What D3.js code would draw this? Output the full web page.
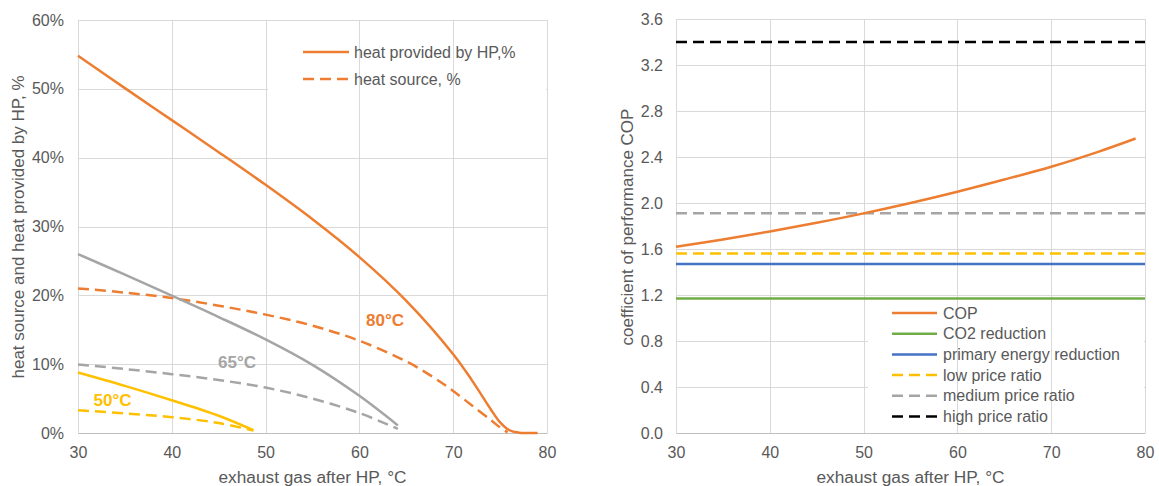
<!DOCTYPE html>
<html><head><meta charset="utf-8">
<script src="https://cdn.jsdelivr.net/npm/d3@7"></script>
<style>
body{margin:0;background:#fff;}
svg text{font-family:"Liberation Sans",Arial,sans-serif;}
</style></head>
<body><svg id="c" width="1159" height="486"></svg>
<script>
// ---------- DATA (left chart) ----------
const x80hp = [30,35,40,45,50,55,60,65,70,72,74,75,76,77,78,79];
const heatHP80 = [54.8,50.1,45.45,40.8,36.05,31.05,25.55,19.2,11.45,7.65,3.45,1.55,0.4,0.05,0,0];
const x80src = [30,35,40,45,50,55,60,65,68,70,72,74,75,75.8];
const heatSrc80 = [21.0,20.4,19.6,18.5,17.2,15.6,13.4,10.4,8.0,6.1,4.0,1.9,0.8,0.1];
const x65 = [30,35,40,45,50,55,60,64.1];
const heatHP65 = [26.0,23.0,19.95,16.85,13.6,9.9,5.4,1.1];
const heatSrc65 = [9.95,9.3,8.55,7.7,6.6,5.0,2.9,0.6];
const x50 = [30,35,40,45,48.7];
const heatHP50 = [8.8,6.85,4.75,2.5,0.4];
const heatSrc50 = [3.3,2.85,2.3,1.45,0.35];
const leftXTicks = [30,40,50,60,70,80];
const leftYTicks = [0,10,20,30,40,50,60];
const tempLabels = ["80°C","65°C","50°C"];
const leftLegend = ["heat provided by HP,%","heat source, %"];
// ---------- DATA (right chart) ----------
const xCop = [30,35,40,45,50,55,60,65,70,75,79];
const cop = [1.62,1.683,1.752,1.828,1.91,2.0,2.098,2.204,2.315,2.445,2.561];
const xFlat = [30,80];
const co2Reduction = 1.17;
const primaryReduction = 1.47;
const lowPrice = 1.56;
const mediumPrice = 1.91;
const highPrice = 3.4;
const rightXTicks = [30,40,50,60,70,80];
const rightYTicks = [0,0.4,0.8,1.2,1.6,2.0,2.4,2.8,3.2,3.6];
const rightLegend = ["COP","CO2 reduction","primary energy reduction","low price ratio","medium price ratio","high price ratio"];

const C = {orange:"#ED7D31", gray:"#A5A5A5", yellow:"#FFC000", blue:"#4472C4", green:"#70AD47", black:"#000000"};
const TXT = "#595959", GRID = "#d9d9d9";
const DASH = "11,6";
const CURVE = d3.curveCatmullRom.alpha(0.5);
const svg = d3.select("#c");

function panel(opts){
  const g = svg.append("g");
  const x = d3.scaleLinear().domain([30,80]).range(opts.xr);
  const y = d3.scaleLinear().domain(opts.yd).range(opts.yr);
  g.append("g").selectAll("line").data(opts.yTicks).join("line")
    .attr("x1",opts.xr[0]).attr("x2",opts.xr[1])
    .attr("y1",d=>Math.round(y(d))+0.5).attr("y2",d=>Math.round(y(d))+0.5)
    .attr("stroke",GRID).attr("stroke-width",1);
  g.append("rect").attr("x",opts.legRect[0]).attr("y",opts.legRect[1])
    .attr("width",opts.legRect[2]).attr("height",opts.legRect[3]).attr("fill","#fff");
  g.append("g").selectAll("line").data(opts.xTicks).join("line")
    .attr("y1",opts.yr[0]).attr("y2",opts.yr[1])
    .attr("x1",d=>Math.round(x(d))+0.5).attr("x2",d=>Math.round(x(d))+0.5)
    .attr("stroke",GRID).attr("stroke-width",1);
  const xa = g.append("g").attr("transform",`translate(0,${opts.yr[0]})`)
    .call(d3.axisBottom(x).tickValues(opts.xTicks).tickSize(0).tickPadding(14));
  xa.select(".domain").attr("stroke","#bfbfbf");
  xa.selectAll("text").attr("fill",TXT).attr("font-size",16).attr("font-family","Liberation Sans, Arial");
  const ya = g.append("g").attr("transform",`translate(${opts.xr[0]},0)`)
    .call(d3.axisLeft(y).tickValues(opts.yTicks).tickSize(0).tickPadding(opts.yPad).tickFormat(opts.yFmt));
  ya.select(".domain").attr("stroke","#d9d9d9");
  ya.selectAll("text").attr("fill",TXT).attr("font-size",16).attr("font-family","Liberation Sans, Arial");
  g.append("text").attr("x",(opts.xr[0]+opts.xr[1])/2).attr("y",483).attr("text-anchor","middle")
    .attr("fill",TXT).attr("font-size",17.3).text("exhaust gas after HP, °C");
  g.append("text").attr("transform",`translate(${opts.yTitleX},${opts.yTitleY}) rotate(-90)`)
    .attr("text-anchor","middle").attr("dy","0.35em")
    .attr("fill",TXT).attr("font-size",17).text(opts.yTitle);
  return {g,x,y};
}

// ---------- LEFT ----------
const L = panel({xr:[78,547], yd:[0,60], yr:[433,20], xTicks:leftXTicks, yTicks:leftYTicks,
  yFmt:d=>d+"%", yPad:14, yTitle:"heat source and heat provided by HP, %", yTitleX:18, yTitleY:227,
  legRect:[268,28,278,62]});
const lineL = (xs)=>d3.line().x((d,i)=>L.x(xs[i])).y(d=>L.y(d)).curve(CURVE);
function drawL(xs, vals, color, dashed){
  L.g.append("path").attr("d",lineL(xs)(vals)).attr("fill","none").attr("stroke",color)
    .attr("stroke-width",2.5).attr("stroke-dasharray",dashed?DASH:null);
}
drawL(x50, heatSrc50, C.yellow, true);
drawL(x65, heatSrc65, C.gray, true);
drawL(x80src, heatSrc80, C.orange, true);
drawL(x50, heatHP50, C.yellow, false);
drawL(x65, heatHP65, C.gray, false);
drawL(x80hp, heatHP80, C.orange, false);
const tl = [{t:tempLabels[0],x:385,y:320,c:C.orange},{t:tempLabels[1],x:237,y:362,c:C.gray},{t:tempLabels[2],x:112.5,y:400,c:C.yellow}];
L.g.selectAll(".tl").data(tl).join("text").attr("x",d=>d.x).attr("y",d=>d.y).attr("dy","0.35em")
  .attr("text-anchor","middle").attr("font-weight","bold").attr("font-size",17).attr("fill",d=>d.c).text(d=>d.t);
leftLegend.forEach((t,i)=>{
  const yy = 52 + i*27;
  L.g.append("line").attr("x1",303).attr("x2",349).attr("y1",yy).attr("y2",yy).attr("stroke",C.orange)
    .attr("stroke-width",2.5).attr("stroke-dasharray",i?DASH:null);
  L.g.append("text").attr("x",354).attr("y",yy).attr("dy","0.35em").attr("fill",TXT).attr("font-size",16).text(t);
});

// ---------- RIGHT ----------
const R = panel({xr:[676,1145], yd:[0,3.6], yr:[433,19], xTicks:rightXTicks, yTicks:rightYTicks,
  yFmt:d3.format(".1f"), yPad:13, yTitle:"coefficient of performance COP", yTitleX:627, yTitleY:227,
  legRect:[868,300,276,125]});
const lineR = (xs)=>d3.line().x((d,i)=>R.x(xs[i])).y(d=>R.y(d)).curve(CURVE);
function drawR(xs, vals, color, dashed){
  R.g.append("path").attr("d",lineR(xs)(vals)).attr("fill","none").attr("stroke",color)
    .attr("stroke-width",2.5).attr("stroke-dasharray",dashed?DASH:null);
}
drawR(xFlat,[co2Reduction,co2Reduction],C.green,false);
drawR(xFlat,[primaryReduction,primaryReduction],C.blue,false);
drawR(xFlat,[lowPrice,lowPrice],C.yellow,true);
drawR(xFlat,[mediumPrice,mediumPrice],C.gray,true);
drawR(xFlat,[highPrice,highPrice],C.black,true);
drawR(xCop,cop,C.orange,false);
const legStyles = [[C.orange,false],[C.green,false],[C.blue,false],[C.yellow,true],[C.gray,true],[C.black,true]];
rightLegend.forEach((t,i)=>{
  const yy = 313 + i*20.7;
  R.g.append("line").attr("x1",892).attr("x2",937).attr("y1",yy).attr("y2",yy).attr("stroke",legStyles[i][0])
    .attr("stroke-width",2.5).attr("stroke-dasharray",legStyles[i][1]?DASH:null);
  R.g.append("text").attr("x",943).attr("y",yy).attr("dy","0.35em").attr("fill",TXT).attr("font-size",16).text(t);
});
</script></body></html>
